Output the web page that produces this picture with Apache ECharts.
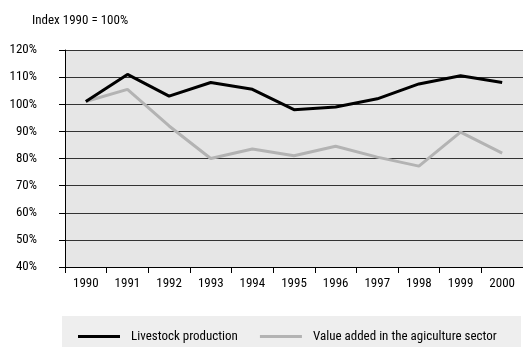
<!DOCTYPE html>
<html><head><meta charset="utf-8">
<script src="https://cdn.jsdelivr.net/npm/echarts@6/dist/echarts.min.js"></script>
<style>html,body{margin:0;padding:0;background:#fff}#c{width:523px;height:347px}</style>
</head><body><div id="c"></div>
<script>
const categories = ['1990','1991','1992','1993','1994','1995','1996','1997','1998','1999','2000'];
const livestock = [101, 111, 103, 108, 105.5, 98, 99, 102, 107.5, 110.5, 108];
const valueAdded = [101, 105.5, 92, 80, 83.5, 81, 84.5, 80.5, 77.2, 89.7, 82];
const seriesNames = ['Livestock production', 'Value added in the agiculture sector'];
const yTicks = [40, 50, 60, 70, 80, 90, 100, 110, 120];

const FONT = '"Roboto Condensed","DejaVu Sans Condensed",sans-serif';
const chart = echarts.init(document.getElementById('c'), null, {renderer:'canvas'});
chart.setOption({
  animation: false,
  backgroundColor: '#fff',
  title: {
    text: 'Index 1990 = 100%', left: 27, top: 9,
    textStyle: {fontFamily: FONT, fontSize: 13, fontWeight: 'normal', color: '#000'}
  },
  graphic: [{
    type: 'rect', left: 62, top: 316, z: -1,
    shape: {width: 459, height: 31},
    style: {fill: '#eeeeee'}
  }],
  legend: {
    left: 73, top: 325, itemWidth: 42, itemHeight: 3, itemGap: 22,
    icon: 'rect',
    textStyle: {fontFamily: FONT, fontSize: 13, color: '#000', padding: [0,0,0,6]},
    data: seriesNames
  },
  grid: {left: 65, right: -1, top: 50, bottom: 80, show: true, backgroundColor: '#e6e6e6', borderWidth: 0},
  xAxis: {
    type: 'category', data: categories, boundaryGap: true,
    axisLine: {lineStyle: {color: '#000', width: 1}},
    axisTick: {show: true, length: 6, lineStyle: {color: '#000'}},
    axisLabel: {fontFamily: FONT, fontSize: 13, color: '#000', margin: 10},
    splitLine: {show: false}
  },
  yAxis: {
    type: 'value', min: yTicks[0], max: yTicks[yTicks.length-1], interval: 10,
    axisLine: {show: true, lineStyle: {color: '#000', width: 1}},
    axisTick: {show: true, length: 6, lineStyle: {color: '#000'}},
    axisLabel: {fontFamily: FONT, fontSize: 13, color: '#000', margin: 28, formatter: v => v + '%'},
    splitLine: {show: true, lineStyle: {color: '#333', width: 1}}
  },
  series: [
    {name: seriesNames[0], type: 'line', data: livestock, showSymbol: false, symbol: 'none',
     lineStyle: {color: '#000', width: 3}, itemStyle: {color: '#000'}, z: 3},
    {name: seriesNames[1], type: 'line', data: valueAdded, showSymbol: false, symbol: 'none',
     lineStyle: {color: '#b3b3b3', width: 3}, itemStyle: {color: '#b3b3b3'}, z: 2}
  ]
});
</script></body></html>
